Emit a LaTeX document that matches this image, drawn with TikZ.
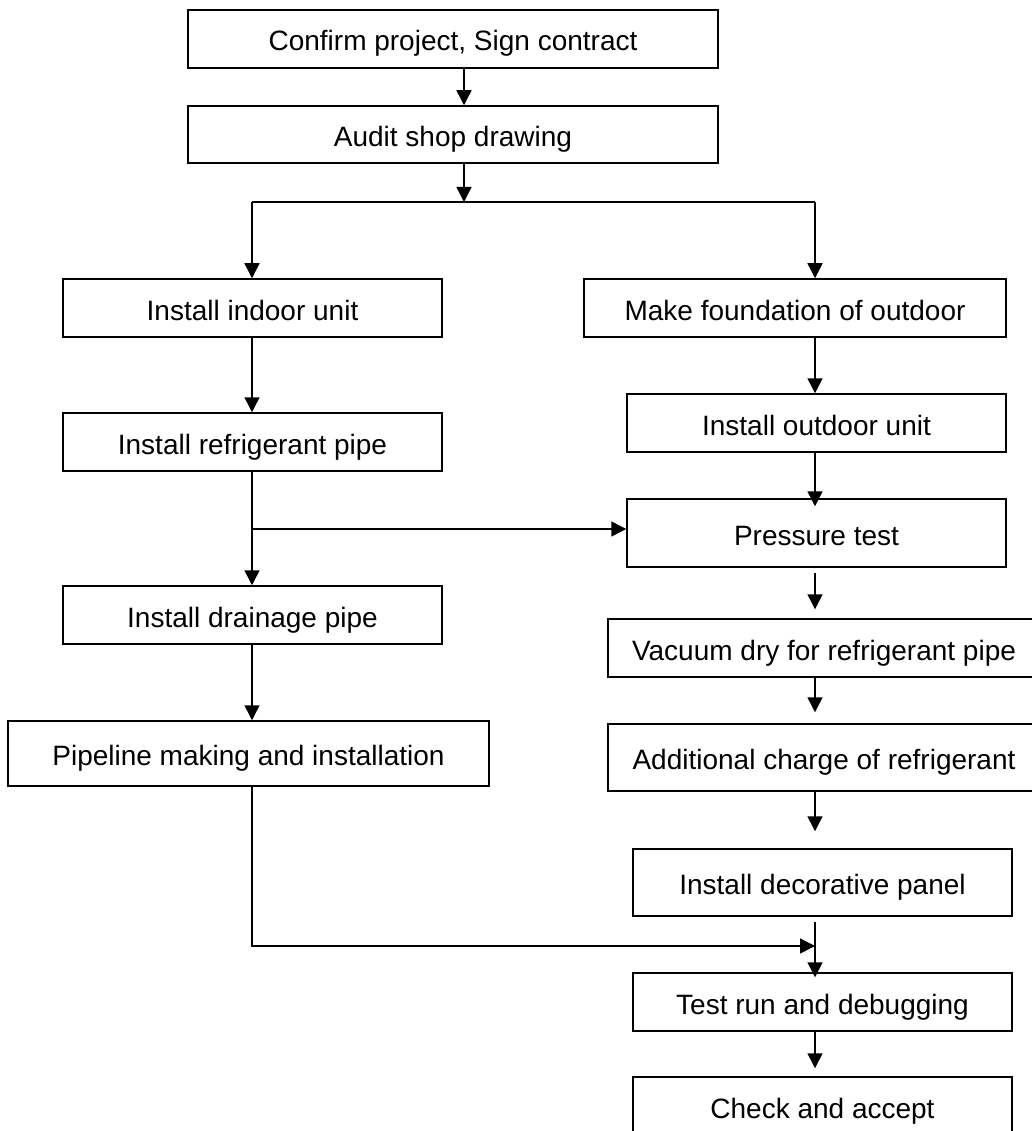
\documentclass[tikz,border=0pt]{standalone}
\usepackage{fontspec}
\setmainfont{Liberation Sans}
\usetikzlibrary{arrows.meta}

\begin{document}
\begin{tikzpicture}[x=1pt, y=-1pt, >={Triangle[length=15pt,width=15pt]},
  stage/.style={draw, line width=1.5pt, inner sep=0pt, minimum height=58pt, text height=24pt, text depth=0pt, font=\fontsize{28}{32}\selectfont},
  flow/.style={->, line width=1.5pt}]
\path[use as bounding box, clip] (0,0) rectangle (1032,1131);
% top
\node[stage, minimum width=530pt] (confirm) at (453,39) {Confirm project, Sign contract};
\node[stage, minimum width=530pt, minimum height=57pt] (audit) at (453,134.5) {Audit shop drawing};
\coordinate (jn) at (464,202);
\coordinate (jl) at (252,202);
\coordinate (jr) at (815,202);
% indoor side
\node[stage, minimum width=379pt] (indoor) at (252.5,308) {Install indoor unit};
\node[stage, minimum width=379pt] (refpipe) at (252.5,442) {Install refrigerant pipe};
\node[stage, minimum width=379pt] (drain) at (252.5,615) {Install drainage pipe};
\node[stage, minimum width=481pt, minimum height=65pt] (pipeline) at (248.5,753.5) {Pipeline making and installation};
\coordinate (br) at (252,529);
\coordinate (bt) at (815,946);
% outdoor side
\node[stage, minimum width=422pt] (found) at (795,308) {Make foundation of outdoor};
\node[stage, minimum width=379pt] (outdoor) at (816.5,423) {Install outdoor unit};
\node[stage, minimum width=379pt, minimum height=68pt] (pressure) at (816.5,533) {Pressure test};
\node[stage, minimum width=432pt] (vacuum) at (824,648) {Vacuum dry for refrigerant pipe};
\node[stage, minimum width=432pt, minimum height=67pt] (charge) at (824,757.5) {Additional charge of refrigerant};
\node[stage, minimum width=379pt, minimum height=67pt] (panel) at (822.5,882.5) {Install decorative panel};
\node[stage, minimum width=379pt] (testrun) at (822.5,1002) {Test run and debugging};
\node[stage, minimum width=379pt] (accept) at (822.5,1106) {Check and accept};

% connectors
\draw[flow] (confirm.south -| jn) -- (audit.north -| jn);
\draw[flow] (audit.south -| jn) -- (jn);
\draw[line width=1.5pt] (jl) -- (jr);
\draw[flow] (jl) -- (indoor.north -| jl);
\draw[flow] (jr) -- (found.north -| jr);
\draw[flow] (indoor.south -| jl) -- (refpipe.north -| jl);
\draw[flow] (refpipe.south -| jl) -- (drain.north -| jl);
\draw[flow] (br) -- (pressure.west |- br);
\draw[flow] (drain.south -| jl) -- (pipeline.north -| jl);
\draw[flow] (pipeline.south -| jl) |- (bt);
\draw[flow] (found.south -| jr) -- (outdoor.north -| jr);
\draw[flow, shorten >=-8pt] (outdoor.south -| jr) -- (pressure.north -| jr);
\draw[flow, shorten <=5pt, shorten >=9pt] (pressure.south -| jr) -- (vacuum.north -| jr);
\draw[flow, shorten >=11pt] (vacuum.south -| jr) -- (charge.north -| jr);
\draw[flow, shorten >=17pt] (charge.south -| jr) -- (panel.north -| jr);
\draw[flow, shorten <=5pt, shorten >=-5pt] (panel.south -| jr) -- (testrun.north -| jr);
\draw[flow, shorten >=8pt] (testrun.south -| jr) -- (accept.north -| jr);
\end{tikzpicture}
\end{document}
